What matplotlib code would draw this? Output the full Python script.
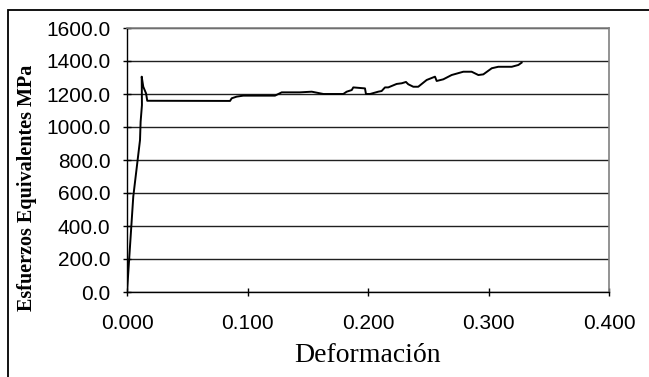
import matplotlib.pyplot as plt
from matplotlib.patches import Rectangle

# strain / equivalent stress curve
deformacion = [0.0, 0.0052, 0.0108, 0.0113, 0.0124, 0.0122, 0.0135, 0.0158, 0.0168,
               0.0855, 0.0869, 0.091, 0.0965, 0.1228, 0.1284, 0.1436, 0.1533, 0.163,
               0.1795, 0.1823, 0.1865, 0.1878, 0.1975, 0.1983, 0.2017, 0.2085, 0.2113,
               0.2141, 0.2168, 0.2238, 0.228, 0.2315, 0.2334, 0.2376, 0.2417, 0.2487,
               0.2556, 0.257, 0.2625, 0.2694, 0.2791, 0.286, 0.2916, 0.2957, 0.3027,
               0.3081, 0.3193, 0.3248, 0.3275]
esfuerzo = [0.0, 578, 921, 1032, 1133, 1305, 1244, 1204, 1159,
            1158, 1174, 1184, 1190, 1190, 1210, 1210, 1214, 1200,
            1200, 1214, 1224, 1240, 1234, 1200, 1200, 1214, 1218,
            1240, 1240, 1261, 1265, 1273, 1259, 1244, 1244, 1285,
            1305, 1279, 1289, 1315, 1335, 1335, 1315, 1319, 1356,
            1365, 1365, 1376, 1390]

x_ticks = [0.0, 0.1, 0.2, 0.3, 0.4]
y_ticks = [0, 200, 400, 600, 800, 1000, 1200, 1400, 1600]

fig = plt.figure(figsize=(6.49, 3.77), dpi=100)
ax = fig.add_axes([127 / 649, 1 - 292 / 377, (609 - 127) / 649, (292 - 28) / 377])

ax.plot(deformacion, esfuerzo, color='black', linewidth=1.4)

ax.set_xlim(0, 0.4)
ax.set_ylim(0, 1600)
ax.set_xticks(x_ticks)
ax.set_yticks(y_ticks)
ax.set_xticklabels([f'{v:.3f}' for v in x_ticks], fontfamily='Liberation Sans', fontsize=15)
ax.set_yticklabels([f'{v:.1f}' for v in y_ticks], fontfamily='Liberation Sans', fontsize=15)
ax.tick_params(axis='both', direction='inout', length=6, width=1, color='black')
ax.tick_params(axis='x', pad=13)
ax.tick_params(axis='y', pad=9)

ax.grid(axis='y', color='#202020', linewidth=1)
ax.set_axisbelow(True)

for side in ('left', 'bottom'):
    ax.spines[side].set_color('black')
    ax.spines[side].set_linewidth(1)
for side in ('right', 'top'):
    ax.spines[side].set_color('#808080')
    ax.spines[side].set_linewidth(1.2)

ax.set_xlabel('Deformación', fontfamily='Liberation Serif', fontsize=20, va='center')
ax.set_ylabel('Esfuerzos Equivalentes MPa', fontfamily='Liberation Serif',
              fontweight='bold', fontsize=14.5, va='center')
ax.xaxis.set_label_coords(0.5, (292 - 355) / 264)
ax.yaxis.set_label_coords((27 - 127) / 482, 0.5 + (160 - 188) / 264)

# chart frame
fig.patches.append(Rectangle((8 / 649, -0.1), 1.2, 1 - 10 / 377 + 0.1,
                             transform=fig.transFigure, fill=False,
                             edgecolor='black', linewidth=1.3))

fig.savefig('out.png', dpi=100)
